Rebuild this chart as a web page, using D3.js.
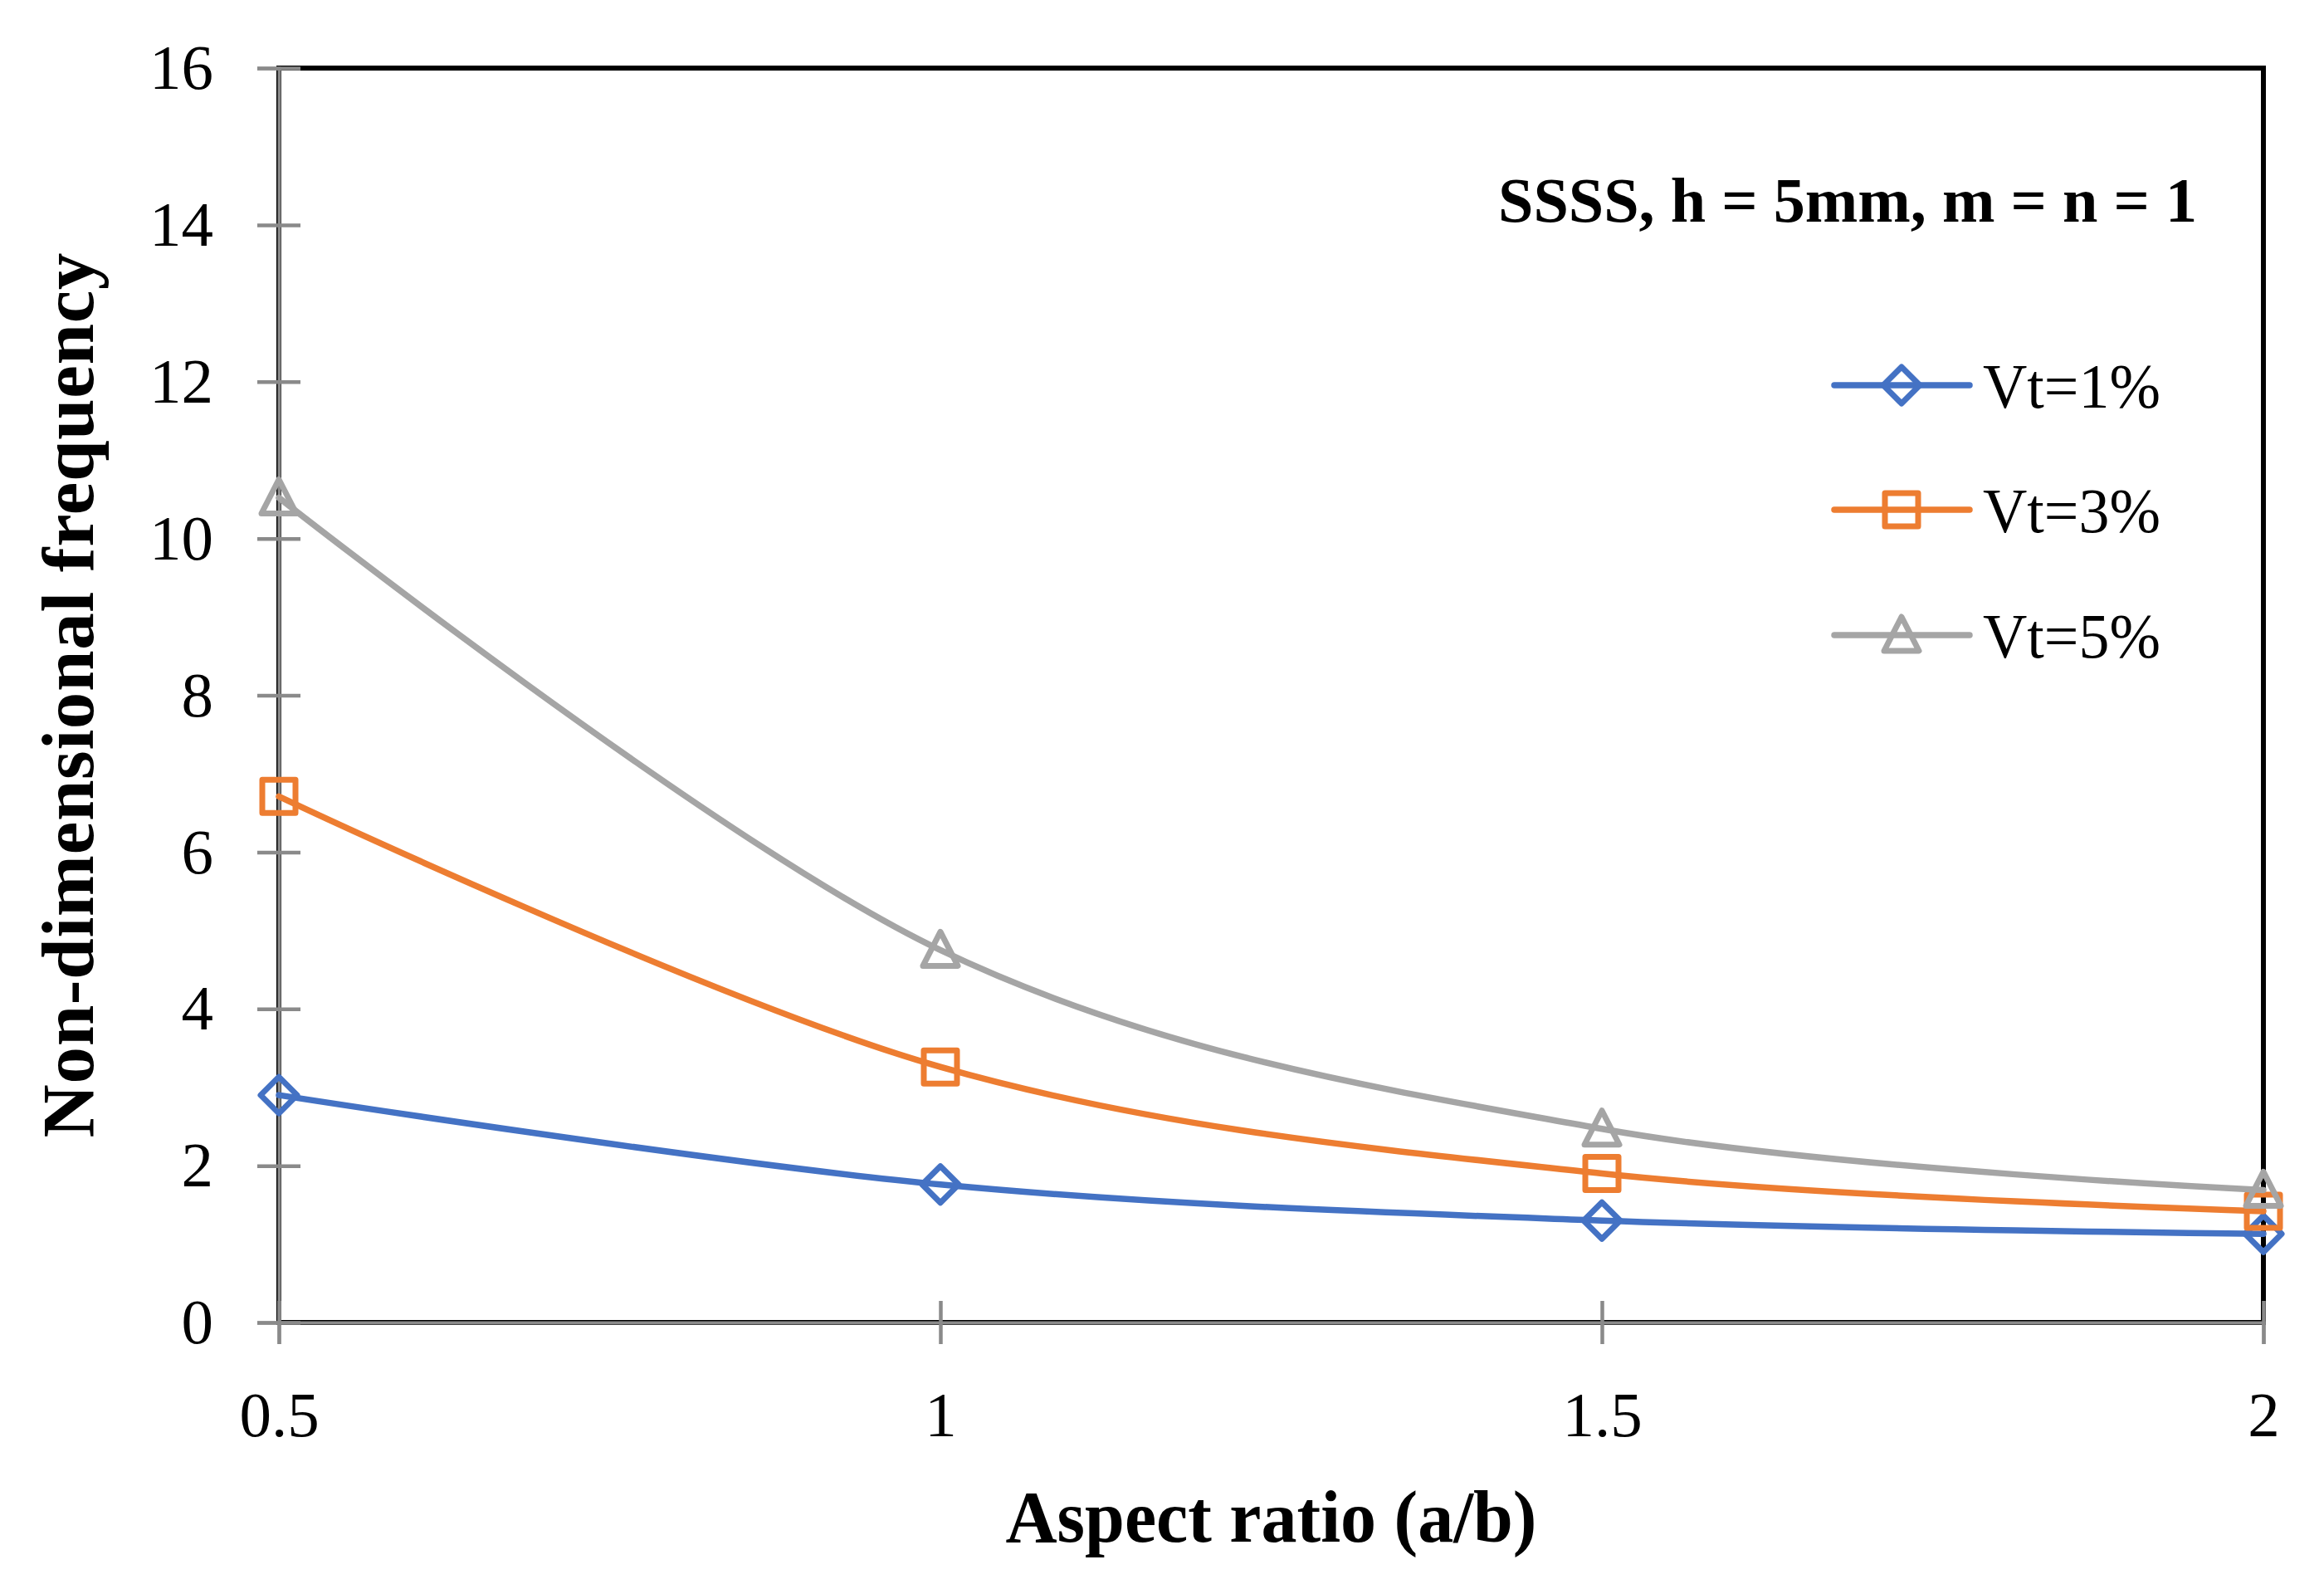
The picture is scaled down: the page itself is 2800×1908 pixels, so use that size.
<!DOCTYPE html>
<html>
<head>
<meta charset="utf-8">
<script src="https://cdn.jsdelivr.net/npm/d3@7"></script>
<style>
  body { margin: 0; background: #fff; }
  svg { display: block; }
  .tick text { font-family: "Palatino Linotype", "Book Antiqua", Palatino, "Liberation Serif", serif; }
</style>
</head>
<body>
<div class="graph"></div>
<script>
// Datos
const aspectRatios = [0.5, 1, 1.5, 2];
const vt1 = [2.90, 1.76, 1.30, 1.13];
const vt3 = [6.71, 3.26, 1.90, 1.42];
const vt5 = [10.52, 4.75, 2.47, 1.69];
const seriesNames = ["Vt=1%", "Vt=3%", "Vt=5%"];
const seriesColors = ["#4472C4", "#ED7D31", "#A5A5A5"];
const seriesSymbols = ["diamond", "square", "triangle"];
const yTicks = [0, 2, 4, 6, 8, 10, 12, 14, 16];
const xTicks = [0.5, 1, 1.5, 2];
const chartLabel = "SSSS, h = 5mm, m = n = 1";

const width = 2800;
const height = 1908;
const plotLeft = 336, plotRight = 2727, plotTop = 82, plotBottom = 1593;
const serif = '"Palatino Linotype", "Book Antiqua", Palatino, "Liberation Serif", serif';

const svg = d3.select(".graph")
    .append("svg")
    .attr("width", width)
    .attr("height", height);

const xScale = d3.scaleLinear().domain([0.5, 2]).range([plotLeft, plotRight]);
const yScale = d3.scaleLinear().domain([0, 16]).range([plotBottom, plotTop]);

// Borde del area de trazado
svg.append("rect")
    .attr("x", plotLeft)
    .attr("y", plotTop)
    .attr("width", plotRight - plotLeft)
    .attr("height", plotBottom - plotTop)
    .attr("fill", "none")
    .attr("stroke", "#000")
    .attr("stroke-width", 6);

// Eje Y
const yAxis = svg.append("g")
    .attr("transform", `translate(${plotLeft},0)`)
    .call(d3.axisLeft(yScale).tickValues(yTicks).tickSize(26).tickPadding(53).tickFormat(d3.format("d")));

// Eje X
const xAxis = svg.append("g")
    .attr("transform", `translate(0,${plotBottom})`)
    .call(d3.axisBottom(xScale).tickValues(xTicks).tickSize(26).tickPadding(56).tickFormat(d => String(d)));

yAxis.select(".domain").attr("stroke", "#8a8a8a").attr("stroke-width", 4);
xAxis.select(".domain").attr("stroke", "#8a8a8a").attr("stroke-width", 4);
yAxis.selectAll(".tick line").attr("x1", 26).attr("x2", -26).attr("stroke", "#8a8a8a").attr("stroke-width", 4.5);
xAxis.selectAll(".tick line").attr("y1", -26).attr("y2", 26).attr("stroke", "#8a8a8a").attr("stroke-width", 4.5);
svg.selectAll(".tick text")
    .attr("font-size", 77)
    .attr("fill", "#000");

// Titulos de los ejes
svg.append("text")
    .attr("x", (plotLeft + plotRight) / 2)
    .attr("y", 1857)
    .attr("text-anchor", "middle")
    .attr("font-family", serif)
    .attr("font-weight", "bold")
    .attr("font-size", 88)
    .attr("textLength", 640)
    .attr("lengthAdjust", "spacingAndGlyphs")
    .text("Aspect ratio (a/b)");

svg.append("text")
    .attr("transform", `translate(112,${(plotTop + plotBottom) / 2}) rotate(-90)`)
    .attr("text-anchor", "middle")
    .attr("font-family", serif)
    .attr("font-weight", "bold")
    .attr("font-size", 89)
    .attr("textLength", 1066)
    .attr("lengthAdjust", "spacing")
    .text("Non-dimensional frequency");

svg.append("text")
    .attr("x", 1805)
    .attr("y", 267)
    .attr("font-family", serif)
    .attr("font-weight", "bold")
    .attr("font-size", 76)
    .attr("textLength", 842)
    .attr("lengthAdjust", "spacingAndGlyphs")
    .text(chartLabel);

// Simbolos de los marcadores
function markerPath(type) {
    if (type === "diamond") return "M0,-22L22,0L0,22L-22,0Z";
    if (type === "square") return "M-20,-20H20V20H-20Z";
    return "M0,-22L21,19H-21Z";
}

const line = d3.line()
    .x(d => xScale(d.x))
    .y(d => yScale(d.y))
    .curve(d3.curveCardinal.tension(0));

const allSeries = [vt1, vt3, vt5];

allSeries.forEach(function (values, k) {
    const puntos = aspectRatios.map((x, j) => ({ x: x, y: values[j] }));

    svg.append("path")
        .datum(puntos)
        .attr("d", line)
        .attr("fill", "none")
        .attr("stroke", seriesColors[k])
        .attr("stroke-width", 7.5)
        .attr("stroke-linecap", "round");

    svg.selectAll(".m" + k)
        .data(puntos)
        .enter()
        .append("path")
        .attr("class", "m" + k)
        .attr("transform", d => `translate(${xScale(d.x)},${yScale(d.y)})`)
        .attr("d", markerPath(seriesSymbols[k]))
        .attr("fill", "none")
        .attr("stroke", seriesColors[k])
        .attr("stroke-width", 7)
        .attr("stroke-linejoin", "round");
});

// Leyenda
const legendY = [464, 614, 765];
seriesNames.forEach(function (name, k) {
    const g = svg.append("g").attr("transform", `translate(0,${legendY[k]})`);
    g.append("line")
        .attr("x1", 2210).attr("x2", 2373)
        .attr("stroke", seriesColors[k])
        .attr("stroke-width", 7.5)
        .attr("stroke-linecap", "round");
    g.append("path")
        .attr("transform", "translate(2291,0)")
        .attr("d", markerPath(seriesSymbols[k]))
        .attr("fill", "none")
        .attr("stroke", seriesColors[k])
        .attr("stroke-width", 7)
        .attr("stroke-linejoin", "round");
    g.append("text")
        .attr("x", 2389)
        .attr("y", 0)
        .attr("dy", "0.35em")
        .attr("font-family", serif)
        .attr("font-size", 77)
        .attr("textLength", 214)
        .attr("lengthAdjust", "spacingAndGlyphs")
        .text(name);
});
</script>
</body>
</html>
